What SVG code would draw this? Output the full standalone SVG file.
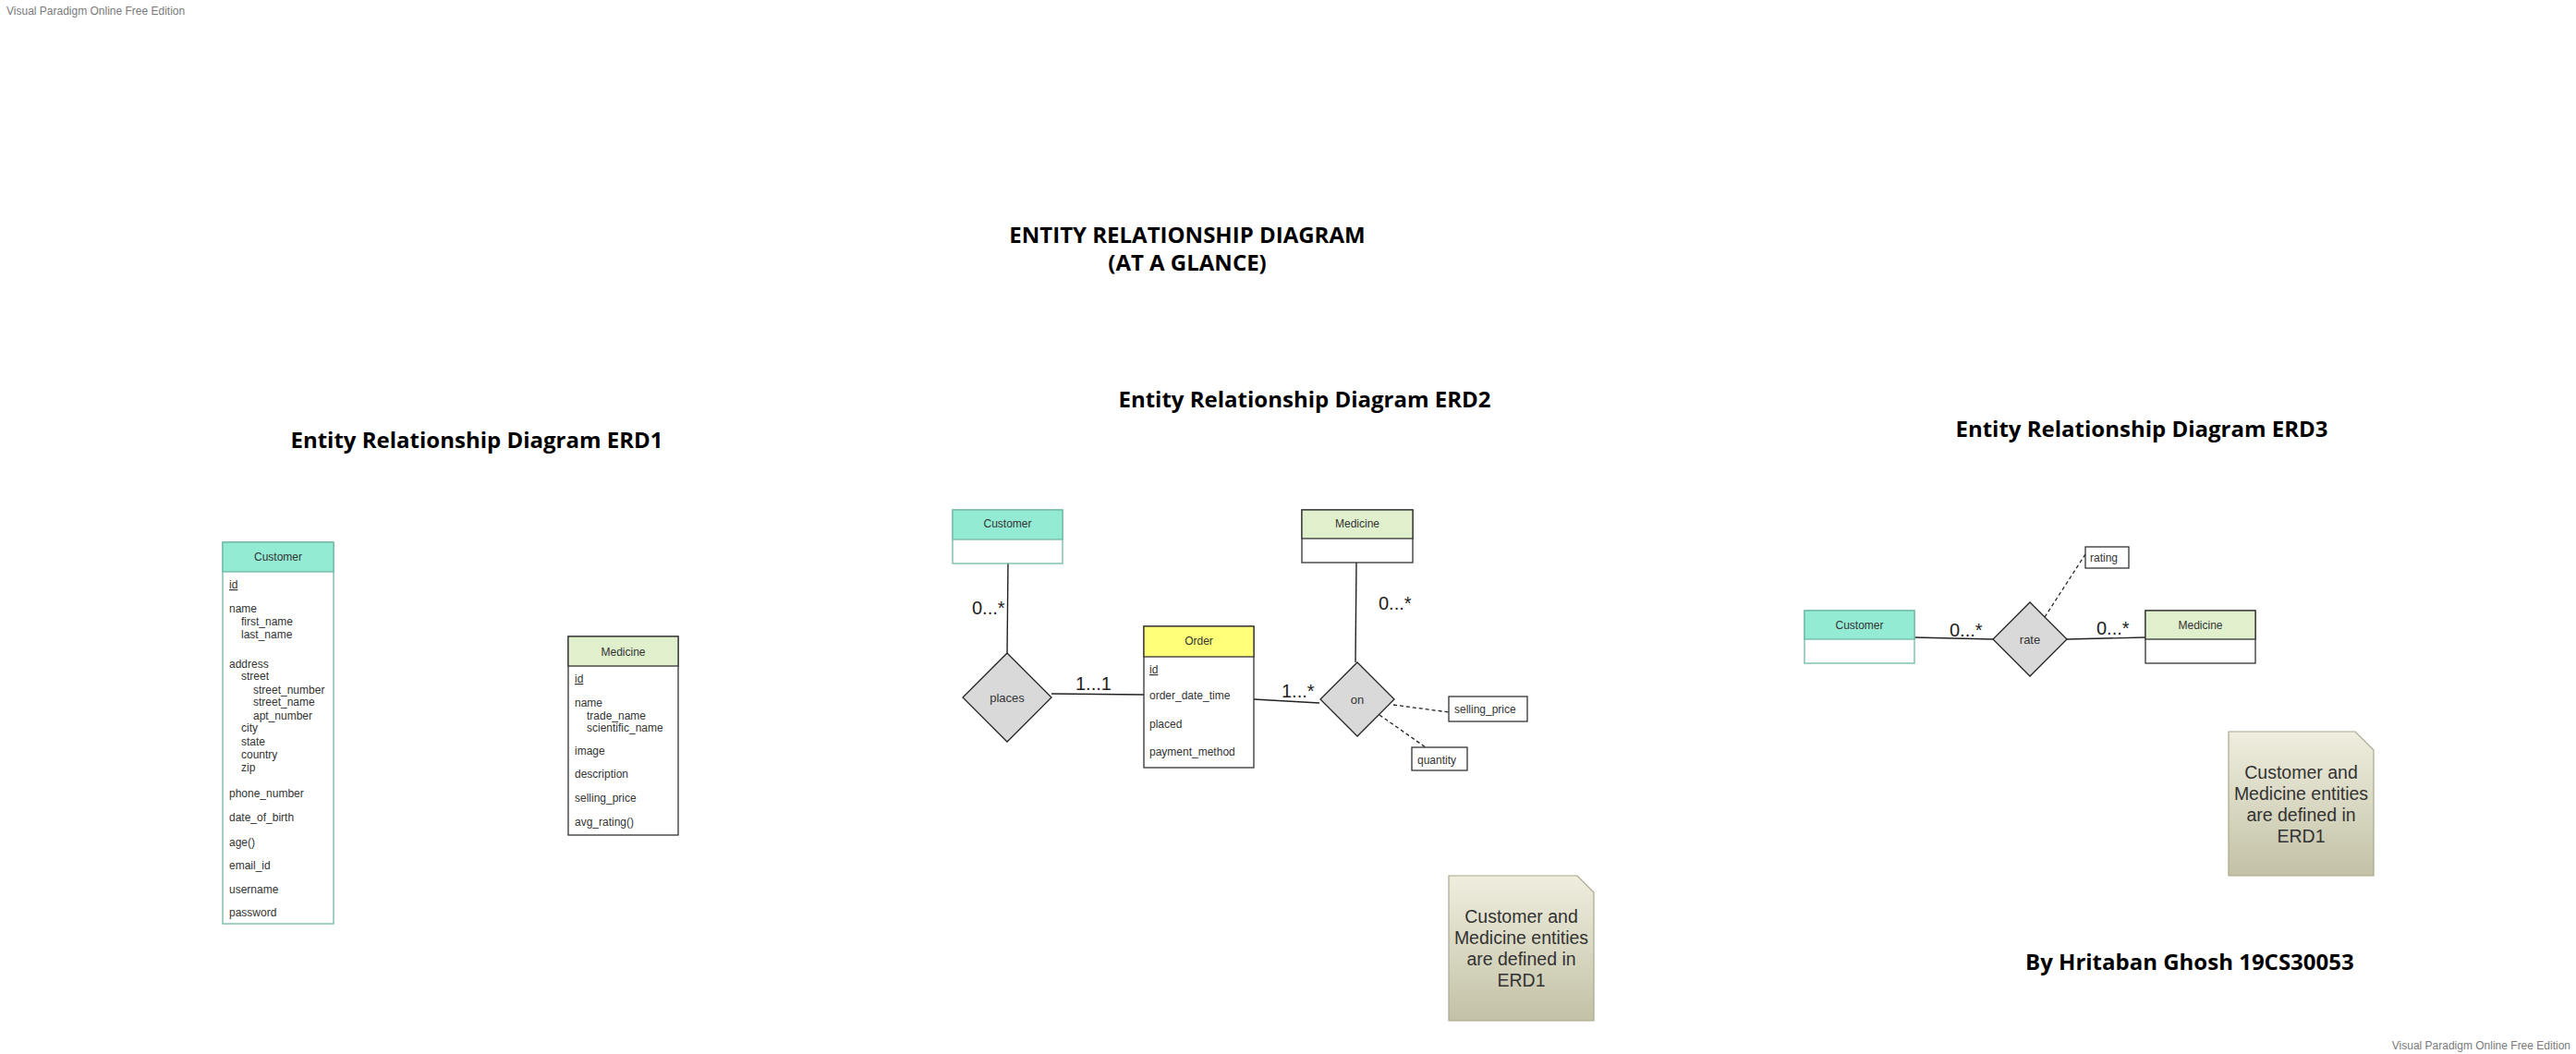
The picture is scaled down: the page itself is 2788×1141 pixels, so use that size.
<svg xmlns="http://www.w3.org/2000/svg" width="2788" height="1141" viewBox="0 0 2788 1141">
<style>
.wm{font-family:"Liberation Sans",Arial,sans-serif;font-size:12px;fill:#7a7a7a}
.ttl{font-family:"Open Sans","Noto Sans",sans-serif;font-weight:700;font-size:24px;fill:#000}
.t{font-family:"Liberation Sans",Arial,sans-serif;font-size:12px;fill:#333}
.hc{text-anchor:middle}
.rel{font-family:"Liberation Sans",Arial,sans-serif;font-size:13px;fill:#333;text-anchor:middle}
.mul{font-family:"Liberation Sans",Arial,sans-serif;font-size:20px;fill:#222}
.note{font-family:"Liberation Sans",Arial,sans-serif;font-size:19.5px;fill:#333;text-anchor:middle}
.cust{fill:#fff;stroke:#6fb8a6;stroke-width:1.3}
.custh{fill:#94ebd4;stroke:#6fb8a6;stroke-width:1.3}
.med{fill:#fff;stroke:#333;stroke-width:1.3}
.medh{fill:#e0f0cd;stroke:#333;stroke-width:1.3}
.ordh{fill:#ffff78;stroke:#333;stroke-width:1.3}
.attr{fill:#fff;stroke:#222;stroke-width:1.2}
.dia{fill:#d9d9d9;stroke:#222;stroke-width:1.3}
.ln{stroke:#222;stroke-width:1.4;fill:none}
.dash{stroke:#222;stroke-width:1.3;fill:none;stroke-dasharray:4 3}
.nt{fill:url(#ng);stroke:#a9a88c;stroke-width:1.2}
</style>
<defs>
<linearGradient id="ng" x1="0" y1="0" x2="0" y2="1">
<stop offset="0" stop-color="#efeedf"/>
<stop offset="1" stop-color="#c3c2a6"/>
</linearGradient>
</defs>
<rect width="2788" height="1141" fill="#fff"/>
<text class="wm" x="7" y="16">Visual Paradigm Online Free Edition</text>
<text class="wm" x="2782" y="1136" text-anchor="end">Visual Paradigm Online Free Edition</text>

<g id="title">
<text class="ttl" x="1285" y="263" text-anchor="middle">ENTITY RELATIONSHIP DIAGRAM</text>
<text class="ttl" x="1285" y="293" text-anchor="middle">(AT A GLANCE)</text>
</g>
<text class="ttl" id="erd1-title" x="516" y="485" text-anchor="middle">Entity Relationship Diagram ERD1</text>
<text class="ttl" id="erd2-title" x="1412" y="441" text-anchor="middle">Entity Relationship Diagram ERD2</text>
<text class="ttl" id="erd3-title" x="2318" y="473" text-anchor="middle">Entity Relationship Diagram ERD3</text>
<text class="ttl" id="author" x="2192" y="1050">By Hritaban Ghosh 19CS30053</text>

<!-- ERD1 -->
<g id="erd1-customer">
<rect class="cust" x="241" y="587" width="120" height="413"/>
<rect class="custh" x="241" y="587" width="120" height="32"/>
<text class="t hc" x="301" y="607">Customer</text>
<text class="t" x="248" y="637" text-decoration="underline">id</text>
<text class="t" x="248" y="663">name</text>
<text class="t" x="261" y="677">first_name</text>
<text class="t" x="261" y="691">last_name</text>
<text class="t" x="248" y="723">address</text>
<text class="t" x="261" y="736">street</text>
<text class="t" x="274" y="751">street_number</text>
<text class="t" x="274" y="764">street_name</text>
<text class="t" x="274" y="779">apt_number</text>
<text class="t" x="261" y="792">city</text>
<text class="t" x="261" y="807">state</text>
<text class="t" x="261" y="821">country</text>
<text class="t" x="261" y="835">zip</text>
<text class="t" x="248" y="863">phone_number</text>
<text class="t" x="248" y="889">date_of_birth</text>
<text class="t" x="248" y="916">age()</text>
<text class="t" x="248" y="941">email_id</text>
<text class="t" x="248" y="967">username</text>
<text class="t" x="248" y="992">password</text>
</g>
<g id="erd1-medicine">
<rect class="med" x="615" y="689" width="119" height="215"/>
<rect class="medh" x="615" y="689" width="119" height="32"/>
<text class="t hc" x="674.5" y="710">Medicine</text>
<text class="t" x="622" y="739" text-decoration="underline">id</text>
<text class="t" x="622" y="765">name</text>
<text class="t" x="635" y="779">trade_name</text>
<text class="t" x="635" y="792">scientific_name</text>
<text class="t" x="622" y="817">image</text>
<text class="t" x="622" y="842">description</text>
<text class="t" x="622" y="868">selling_price</text>
<text class="t" x="622" y="894">avg_rating()</text>
</g>

<!-- ERD2 -->
<g id="connectors">
<path class="ln" d="M1091 610 L1090 707"/>
<path class="ln" d="M1138 751 L1238 752"/>
<path class="ln" d="M1357 757 L1428 761"/>
<path class="ln" d="M1468 609 L1467 717"/>
<path class="dash" d="M1508 763 L1568 771"/>
<path class="dash" d="M1493 774 L1543 809"/>
<path class="ln" d="M2072 690 L2157 692"/>
<path class="ln" d="M2237 692 L2322 690"/>
<path class="dash" d="M2213 668 L2257 600"/>
<rect x="2108" y="670" width="39" height="20" fill="#fff"/>
<rect x="2267" y="668" width="39" height="20" fill="#fff"/>
<text class="mul" x="1052" y="665">0...*</text>
<text class="mul" x="1164" y="747">1...1</text>
<text class="mul" x="1387" y="755">1...*</text>
<text class="mul" x="1492" y="660">0...*</text>
<text class="mul" x="2110" y="689">0...*</text>
<text class="mul" x="2269" y="687">0...*</text>
</g>
<g id="erd2-customer">
<rect class="cust" x="1031" y="552" width="119" height="58"/>
<rect class="custh" x="1031" y="552" width="119" height="32"/>
<text class="t hc" x="1090.5" y="571">Customer</text>
</g>
<g id="erd2-places">
<polygon class="dia" points="1090,707 1138,755 1090,803 1042,755"/>
<text class="rel" x="1090" y="760">places</text>
</g>
<g id="erd2-order">
<rect class="med" x="1238" y="678" width="119" height="153"/>
<rect class="ordh" x="1238" y="678" width="119" height="33"/>
<text class="t hc" x="1297.5" y="698">Order</text>
<text class="t" x="1244" y="729" text-decoration="underline">id</text>
<text class="t" x="1244" y="757">order_date_time</text>
<text class="t" x="1244" y="788">placed</text>
<text class="t" x="1244" y="818">payment_method</text>
</g>
<g id="erd2-medicine">
<rect class="med" x="1409" y="552" width="120" height="57"/>
<rect class="medh" x="1409" y="552" width="120" height="31"/>
<text class="t hc" x="1469" y="571">Medicine</text>
</g>
<g id="erd2-on">
<polygon class="dia" points="1469,717 1509,757 1469,797 1429,757"/>
<text class="rel" x="1469" y="762">on</text>
</g>
<g id="erd2-selling-price">
<rect class="attr" x="1568" y="754" width="85" height="27"/>
<text class="t" x="1574" y="772">selling_price</text>
</g>
<g id="erd2-quantity">
<rect class="attr" x="1528" y="809" width="60" height="25"/>
<text class="t" x="1534" y="827">quantity</text>
</g>
<g id="erd2-note">
<path class="nt" d="M1568 948 H1707 L1725 966 V1105 H1568 Z"/>
<text class="note" x="1646.5" y="999">Customer and</text>
<text class="note" x="1646.5" y="1022">Medicine entities</text>
<text class="note" x="1646.5" y="1045">are defined in</text>
<text class="note" x="1646.5" y="1068">ERD1</text>
</g>

<!-- ERD3 -->
<g id="erd3-customer">
<rect class="cust" x="1953" y="661" width="119" height="57"/>
<rect class="custh" x="1953" y="661" width="119" height="31"/>
<text class="t hc" x="2012.5" y="681">Customer</text>
</g>
<g id="erd3-rate">
<polygon class="dia" points="2197,652 2237,692 2197,732 2157,692"/>
<text class="rel" x="2197" y="697">rate</text>
</g>
<g id="erd3-medicine">
<rect class="med" x="2322" y="661" width="119" height="57"/>
<rect class="medh" x="2322" y="661" width="119" height="31"/>
<text class="t hc" x="2381.5" y="681">Medicine</text>
</g>
<g id="erd3-rating">
<rect class="attr" x="2257" y="592" width="47" height="23"/>
<text class="t" x="2262" y="608">rating</text>
</g>
<g id="erd3-note">
<path class="nt" d="M2412 792 H2549 L2569 812 V948 H2412 Z"/>
<text class="note" x="2490.5" y="843">Customer and</text>
<text class="note" x="2490.5" y="866">Medicine entities</text>
<text class="note" x="2490.5" y="889">are defined in</text>
<text class="note" x="2490.5" y="912">ERD1</text>
</g>
</svg>
